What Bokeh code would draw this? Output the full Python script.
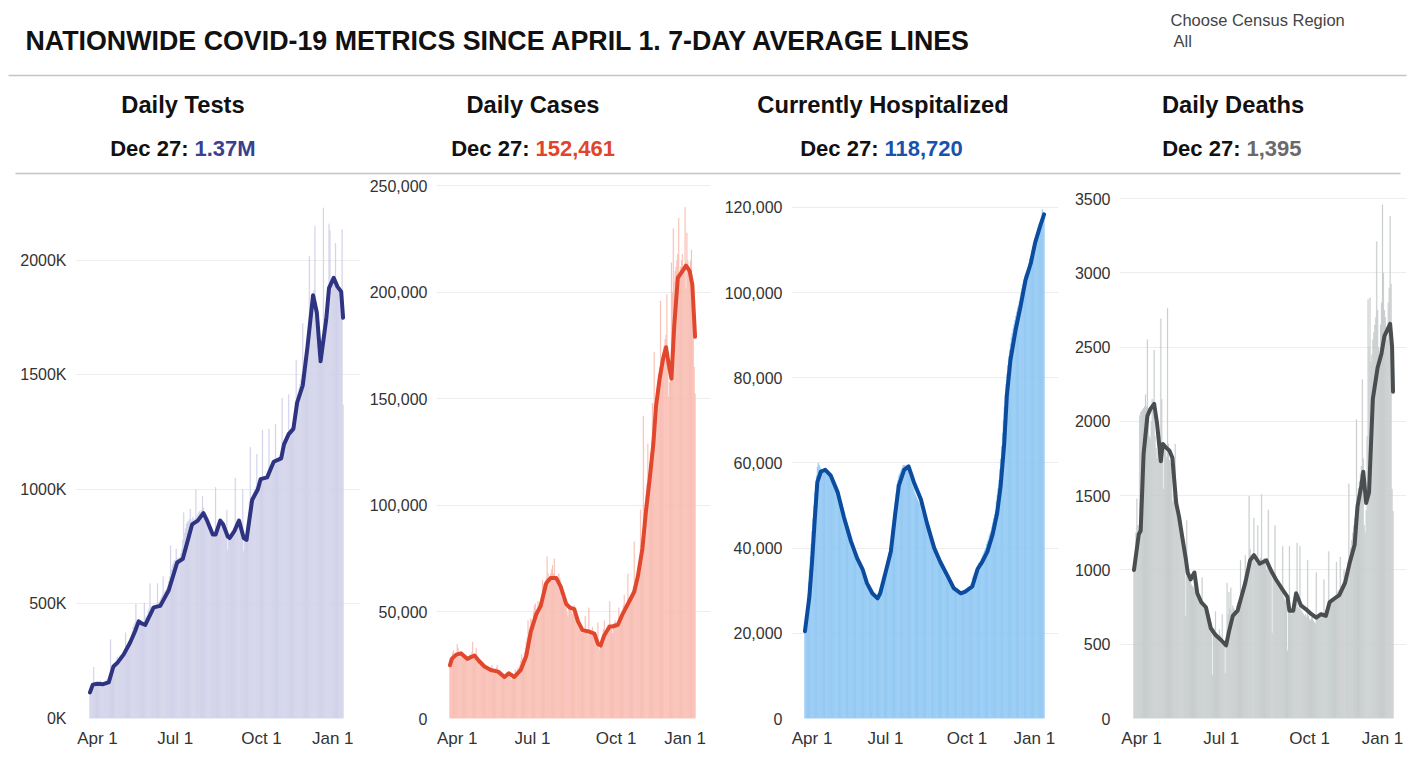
import numpy as np
from bokeh.plotting import figure
from bokeh.layouts import column, row
from bokeh.models import Range1d, FixedTicker
from bokeh.core.properties import value
from bokeh.embed import file_html
from bokeh.resources import INLINE

# ---------------- text ----------------
TITLE = "NATIONWIDE COVID-19 METRICS SINCE APRIL 1. 7-DAY AVERAGE LINES"
REGION_LABEL = "Choose Census Region"
REGION_VALUE = "All"
PANEL_TITLES = ["Daily Tests", "Daily Cases", "Currently Hospitalized", "Daily Deaths"]
LATEST_DATE = "Dec 27:"
LATEST_VALUES = ["1.37M", "152,461", "118,720", "1,395"]

# x axis: day index since Apr 1 (edge labels pulled inside, as in the original)
X_TICK_DAYS = [8, 91, 183, 259]
X_TICK_LABELS = ["Apr 1", "Jul 1", "Oct 1", "Jan 1"]

# ---------------- Daily Tests (thousands) ----------------
TESTS_DAILY_K = [
    105, 125, 140, 150, 225, 160, 145,
    150, 145, 155, 160, 165, 150, 140,
    150, 155, 160, 165, 170, 150, 145,
    160, 345, 210, 220, 230, 240, 235,
    245, 270, 250, 260, 275, 265, 270,
    280, 290, 300, 375, 320, 320, 330,
    340, 350, 360, 380, 400, 410, 420,
    500, 430, 420, 415, 420, 410, 405,
    410, 415, 505, 440, 445, 450, 470,
    480, 590, 490, 485, 480, 490, 490,
    495, 500, 590, 505, 510, 520, 530,
    540, 620, 550, 555, 560, 570, 580,
    600, 620, 755, 650, 670, 680, 690,
    690, 740, 700, 695, 700, 705, 720,
    740, 780, 900, 810, 830, 850, 860,
    860, 870, 915, 860, 870, 880, 860,
    870, 1000, 880, 890, 900, 905, 900,
    910, 970, 920, 880, 860, 870, 860,
    840, 830, 820, 810, 800, 800, 805,
    810, 1010, 830, 850, 860, 865, 870,
    860, 855, 840, 830, 810, 800, 910,
    735, 790, 800, 790, 800, 810, 815,
    820, 1050, 850, 860, 865, 870, 860,
    850, 830, 1000, 730, 780, 790, 800,
    850, 900, 950, 1185, 960, 970, 980,
    990, 1000, 1010, 1155, 1020, 1030, 1040,
    1045, 1050, 1260, 1055, 1050, 1055, 1060,
    1060, 1070, 1265, 1080, 1090, 1100, 1110,
    1120, 1125, 1285, 1130, 1135, 1135, 1140,
    1150, 1170, 1400, 1190, 1200, 1220, 1230,
    1240, 1250, 1415, 1260, 1265, 1270, 1280,
    1300, 1340, 1380, 1565, 1400, 1420, 1440,
    1460, 1480, 1500, 1725, 1530, 1560, 1590,
    1620, 1650, 1700, 2020, 1760, 1800, 1830,
    1850, 1870, 2150, 1820, 1780, 1650, 1560,
    1550, 1560, 1600, 1650, 2230, 1700, 1740,
    1760, 1820, 1880, 2160, 2130, 1900, 1920,
    1930, 1925, 1910, 2075, 1900, 1890, 1880,
    1870, 1860, 1800, 2135, 1370,
]
TESTS_AVG_DAYS = [0, 3, 8, 14, 20, 25, 29, 36, 43, 48, 52, 55, 59, 68, 75, 84, 93, 99, 109, 115,
                  121, 125, 131, 134, 139, 142, 147, 149, 154, 159, 164, 167, 173, 179, 182, 189,
                  196, 204, 207, 212, 217, 221, 227, 232, 238, 242, 246, 248, 252, 255, 260, 264,
                  268, 270]
TESTS_AVG_K = [114, 148, 152, 150, 158, 227, 242, 280, 333, 380, 424, 415, 409, 485, 492, 560, 681,
               697, 848, 864, 897, 864, 803, 803, 864, 848, 795, 788, 818, 864, 788, 780, 954, 1000,
               1045, 1053, 1121, 1136, 1197, 1242, 1265, 1379, 1455, 1621, 1848, 1773, 1560, 1621,
               1742, 1879, 1924, 1886, 1864, 1750]
TESTS_Y_TICKS = [0, 500, 1000, 1500, 2000]
TESTS_Y_LABELS = ["0K", "500K", "1000K", "1500K", "2000K"]

# ---------------- Daily Cases (thousands) ----------------
CASES_DAILY_K = [
    26, 27, 29, 31, 32, 30, 28,
    29, 35, 33, 31, 30, 29, 30,
    31, 30, 29, 28, 29, 27, 26,
    28, 30, 29, 31, 36, 30, 28,
    29, 33, 28, 27, 26, 25, 26,
    27, 26, 25, 24, 25, 24, 23,
    24, 23, 22, 23, 25, 22, 21,
    22, 23, 24, 25, 22, 21, 20,
    21, 22, 21, 20, 19, 20, 21,
    22, 21, 22, 20, 19, 18, 19,
    20, 19, 23, 21, 22, 24, 23,
    25, 27, 30, 28, 27, 31, 33,
    36, 38, 46, 40, 43, 47, 46,
    45, 50, 53, 54, 51, 50, 55,
    50, 54, 55, 57, 65, 63, 60,
    62, 66, 76, 68, 64, 66, 68,
    70, 72, 68, 75, 66, 65, 63,
    64, 68, 66, 60, 57, 56, 55,
    54, 56, 55, 50, 48, 52, 53,
    52, 50, 49, 51, 53, 49, 46,
    45, 44, 47, 43, 42, 40, 41,
    40, 42, 48, 41, 40, 39, 52,
    41, 40, 39, 43, 38, 37, 40,
    36, 35, 45, 33, 32, 34, 36,
    38, 42, 46, 40, 41, 43, 44,
    44, 55, 43, 42, 40, 44, 45,
    46, 43, 45, 44, 52, 45, 47,
    48, 50, 53, 58, 51, 50, 54,
    68, 55, 57, 58, 56, 60, 62,
    83, 62, 64, 66, 70, 72, 75,
    98, 80, 85, 142, 95, 100, 105,
    110, 129, 115, 120, 125, 130, 148,
    135, 172, 145, 150, 155, 158, 162,
    165, 196, 168, 170, 172, 175, 178,
    180, 199, 165, 151, 158, 160, 214,
    200, 230, 205, 210, 212, 215, 218,
    235, 210, 212, 215, 218, 212, 210,
    240, 202, 228, 215, 210, 212, 215,
    220, 205, 195, 165, 152.461,
]
CASES_AVG_DAYS = [0, 2, 7, 12, 19, 27, 32, 38, 45, 53, 60, 65, 71, 78, 84, 89, 95, 100, 106, 111,
                  117, 122, 128, 132, 137, 141, 146, 154, 159, 163, 166, 170, 176, 179, 185, 190,
                  198, 203, 207, 212, 216, 220, 224, 227, 231, 235, 238, 241, 244, 247, 251, 255,
                  260, 264, 267, 269, 270]
CASES_AVG_K = [25, 28, 30, 30.6, 28, 29.6, 27, 24.4, 22.8, 22, 19.5, 21.2, 19.5, 22.8, 29.3, 40.7,
               48.9, 52.9, 63.5, 66, 66, 61.9, 53.8, 52.1, 51.3, 45.6, 41.5, 40.7, 39.9, 35, 34.2,
               39.1, 43.2, 43.2, 44, 48.9, 55.4, 59.5, 66.8, 79.8, 97.7, 112.4, 128.7, 146.6, 159.6,
               169.4, 174.3, 166.2, 159.6, 184, 206.9, 209.3, 212.6, 210.1, 203.6, 187.3, 179.2]
CASES_Y_TICKS = [0, 50, 100, 150, 200, 250]
CASES_Y_LABELS = ["0", "50,000", "100,000", "150,000", "200,000", "250,000"]

# ---------------- Currently Hospitalized (thousands) ----------------
HOSP_DAILY_K = [
    20.5, 23, 26, 29, 32, 35, 38,
    41, 44, 47, 50, 53, 55, 57,
    59, 60, 59.5, 59, 58.5, 58.5, 58.5,
    58.5, 58.5, 58, 58, 57.5, 57.5, 57,
    57, 56.5, 56, 55.5, 55, 54.5, 54,
    53.5, 53, 52, 51.5, 50.5, 50, 49,
    48.5, 47.5, 47, 46, 45, 44.5, 43.5,
    43, 42, 41.5, 41, 40, 39.5, 39,
    38.5, 38, 37.5, 37, 36.5, 36, 35.5,
    35.5, 35, 34.5, 34, 33, 32.5, 32,
    31.5, 31, 30.5, 30, 30, 29.5, 29,
    29, 28.5, 28.5, 28.5, 28, 28, 28.5,
    29, 29.5, 30, 31, 32, 33, 34,
    35, 36, 37, 38, 39, 40, 41,
    43, 45, 47, 49, 51, 53, 55,
    56, 57, 57.5, 58, 58.5, 59, 59.5,
    59.5, 59.5, 59, 59, 58.5, 58, 57,
    56.5, 56, 55, 54.5, 54, 53, 52.5,
    52, 51.5, 51, 50.5, 50, 49, 48.5,
    48, 47.5, 47, 46.5, 46, 45.5, 45,
    44, 43.5, 43, 42.5, 42, 41, 40.5,
    40, 39.5, 39, 38.5, 38, 37.5, 37,
    36.5, 36, 35.5, 35, 34.5, 34, 33.5,
    33.5, 33, 32.5, 32, 31.5, 31, 31,
    30.5, 30.5, 30, 30, 29.8, 29.6, 29.5,
    29.5, 29.4, 29.4, 29.5, 29.6, 29.8, 30,
    30.2, 30.4, 30.6, 30.8, 31, 31.5, 32,
    33, 33.5, 34, 34.5, 35, 35.5, 36,
    36.5, 36.5, 37, 37.5, 38, 38.5, 39,
    39.5, 40, 41, 41.5, 42, 43, 43.5,
    44, 45, 46, 47, 48, 49, 51,
    52.5, 54, 56, 58.5, 61, 64, 67,
    70, 73, 76, 78.5, 81, 83, 85,
    86.5, 88, 89.5, 90.5, 91.5, 92.5, 93.5,
    94.5, 95.5, 96.5, 97, 98, 99, 100,
    101, 102, 103, 104, 104.5, 105, 105.5,
    106, 107, 108, 108.5, 109, 110, 111,
    111.5, 112, 113, 113.5, 114, 114.5, 115.5,
    116, 117, 119.5, 118.5, 118.72,
]
HOSP_AVG_DAYS = [0, 5, 8, 11, 14, 18, 23, 29, 37, 44, 52, 59, 65, 70, 76, 82, 85, 91, 97, 102, 106,
                 112, 117, 123, 131, 138, 146, 153, 161, 168, 176, 181, 189, 195, 200, 206, 212, 217,
                 221, 225, 228, 232, 238, 243, 249, 255, 260, 266, 270]
HOSP_AVG_K = [20.5, 28.6, 36.7, 46.5, 55.5, 58, 58.4, 57.1, 53.1, 47.3, 41.6, 37.6, 35.1, 31.8, 29.4,
              28.2, 29.4, 34.3, 39.2, 48.2, 54.7, 58.4, 59.2, 55.5, 51.4, 45.7, 40, 36.7, 33.5, 30.6,
              29.4, 29.8, 31, 35.1, 36.7, 39.2, 43.3, 48.2, 54.7, 64.5, 75.9, 84.1, 91.4, 96.3,
              102.9, 106.9, 111.8, 115.9, 118.4]
HOSP_Y_TICKS = [0, 20, 40, 60, 80, 100, 120]
HOSP_Y_LABELS = ["0", "20,000", "40,000", "60,000", "80,000", "100,000", "120,000"]

# ---------------- Daily Deaths ----------------
DEATHS_DAILY = [
    1000, 1100, 1250, 1480, 1300, 1300, 2040,
    2060, 2070, 2080, 2090, 2100, 2180, 2100,
    2552, 2050, 1900, 1880, 2000, 2150, 2080,
    2481, 1900, 1820, 1750, 1800, 1850, 1900,
    2692, 2150, 1780, 1545, 1850, 1800, 1760,
    2762, 1850, 1740, 1720, 1700, 1460, 1750,
    1600, 1849, 1450, 1380, 1340, 1300, 1250,
    1250, 1200, 1150, 1100, 1050, 690, 1334,
    1000, 980, 950, 920, 900, 890, 880,
    960, 870, 850, 830, 800, 780, 790,
    800, 950, 780, 750, 760, 740, 720,
    700, 680, 660, 640, 620, 293, 610,
    600, 720, 580, 570, 560, 600, 560,
    540, 700, 520, 510, 304, 500, 913,
    700, 850, 740, 880, 720, 760, 740,
    730, 720, 760, 780, 760, 800, 1065,
    850, 880, 900, 930, 1100, 960, 1000,
    1050, 1498, 1140, 1100, 1090, 1080, 1350,
    1060, 1050, 1040, 1300, 1060, 1050, 1080,
    1510, 1060, 1070, 1080, 1050, 1000, 1030,
    1405, 1000, 990, 980, 574, 960, 950,
    1299, 920, 900, 890, 880, 870, 860,
    850, 1159, 820, 800, 790, 780, 456,
    760, 1159, 720, 700, 730, 760, 740,
    760, 780, 1182, 750, 740, 1159, 730,
    720, 710, 700, 690, 700, 680, 1065,
    690, 670, 660, 680, 690, 660, 650,
    640, 983, 680, 670, 700, 700, 690,
    680, 700, 936, 690, 720, 750, 780,
    1124, 790, 800, 810, 780, 820, 800,
    830, 1053, 850, 860, 870, 1088, 890,
    900, 920, 1000, 960, 980, 1000, 1050,
    1580, 1100, 1150, 1200, 1250, 1300, 1350,
    1400, 2013, 1500, 1550, 1600, 1650, 1700,
    2283, 1750, 1300, 1250, 1400, 1900, 2821,
    2500, 2833, 2400, 2450, 2550, 2600, 2650,
    2700, 3212, 2750, 2500, 2450, 2650, 2800,
    3460, 3000, 2750, 2700, 2600, 2550, 2800,
    2900, 3383, 2926, 1545, 1395,
]
DEATHS_AVG_DAYS = [0, 5, 7, 10, 14, 17, 21, 24, 28, 30, 33, 37, 40, 44, 47, 51, 54, 56, 59, 63, 66,
                   70, 75, 80, 85, 91, 96, 99, 103, 108, 111, 116, 121, 125, 131, 138, 143, 148, 155,
                   160, 162, 166, 169, 174, 179, 185, 190, 195, 200, 204, 209, 214, 220, 225, 230,
                   233, 237, 239, 242, 245, 249, 254, 258, 261, 267, 269, 270]
DEATHS_AVG = [1000, 1241, 1264, 1779, 2037, 2083, 2119, 1990, 1732, 1849, 1826, 1803, 1756, 1451,
              1358, 1194, 1077, 983, 936, 983, 843, 784, 749, 609, 562, 527, 492, 585, 691, 726, 796,
              913, 1065, 1100, 1042, 1065, 995, 936, 866, 819, 726, 726, 843, 761, 737, 702, 679,
              702, 691, 784, 808, 831, 913, 1053, 1170, 1428, 1568, 1662, 1451, 1522, 2154, 2364,
              2458, 2575, 2657, 2505, 2200]
DEATHS_Y_TICKS = [0, 500, 1000, 1500, 2000, 2500, 3000, 3500]
DEATHS_Y_LABELS = ["0", "500", "1000", "1500", "2000", "2500", "3000", "3500"]

# ---------------- styles ----------------
FONT = value("Liberation Sans")
BAR_COLORS = ["#d1d2e9", "#f9beb3", "#8fc8f3", "#c9cdcd"]
LINE_COLORS = ["#2e3482", "#e0472c", "#0c4c9e", "#4a4e50"]
VALUE_COLORS = ["#3b3f8e", "#e0452b", "#1753ad", "#6a6a6a"]

# ---------------- header ----------------
HW, HH = 1408, 178
head = figure(width=HW, height=HH, output_backend="svg", toolbar_location=None,
              x_range=Range1d(0, HW), y_range=Range1d(HH, 0),
              x_axis_location=None, y_axis_location=None, min_border=0)
head.grid.visible = False
head.outline_line_color = None

head.text(x=[25], y=[40], text=[TITLE], text_font=FONT, text_font_size=value("26.8px"),
          text_font_style="bold", text_color="#111111", text_baseline="alphabetic")
head.text(x=[1170, 1173], y=[19, 40], text=[REGION_LABEL, REGION_VALUE], text_font=FONT,
          text_font_size=value("16.5px"), text_color="#444444", text_baseline="alphabetic")
head.segment(x0=[8, 15], y0=[75, 173], x1=[1406, 1400], y1=[75, 173],
             line_color="#c4c4c4", line_width=1.5)

centers = [182.5, 532.5, 882.5, 1232.5]
splits = [188, 529, 878, 1240]
head.text(x=centers, y=[104] * 4, text=PANEL_TITLES, text_font=FONT,
          text_font_size=value("23.7px"), text_font_style="bold", text_color="#111111",
          text_align="center", text_baseline="alphabetic")
head.text(x=splits, y=[148] * 4, text=[LATEST_DATE] * 4, text_font=FONT,
          text_font_size=value("22px"), text_font_style="bold", text_color="#111111",
          text_align="right", text_baseline="alphabetic")
for i in range(4):
    head.text(x=[splits[i] + 6], y=[148], text=[LATEST_VALUES[i]], text_font=FONT,
              text_font_size=value("22px"), text_font_style="bold", text_color=VALUE_COLORS[i],
              text_align="left", text_baseline="alphabetic")


# ---------------- panels ----------------
def panel(i, left, frame_w, right, xr, ytop, daily, avg_x, avg_y, yticks, ylabels):
    p = figure(frame_width=frame_w, frame_height=540, output_backend="svg",
               toolbar_location=None,
               x_range=Range1d(*xr), y_range=Range1d(0, ytop),
               min_border_left=left, min_border_right=right,
               min_border_top=0, min_border_bottom=36)
    p.outline_line_color = None
    p.xgrid.visible = False
    p.ygrid.grid_line_color = "#ededed"
    p.ygrid.grid_line_width = 1
    p.ygrid.ticker = FixedTicker(ticks=yticks)

    x = np.arange(len(daily))
    p.vbar(x=x, top=daily, width=1.0, bottom=0, fill_color=BAR_COLORS[i],
           line_color=BAR_COLORS[i], line_width=0.2)
    p.line(avg_x, avg_y, line_color=LINE_COLORS[i], line_width=4,
           line_join="round", line_cap="round")

    for ax in (p.xaxis[0], p.yaxis[0]):
        ax.axis_line_color = None
        ax.major_tick_line_color = None
        ax.minor_tick_line_color = None
        ax.major_tick_out = 0
        ax.major_tick_in = 0
        ax.minor_tick_out = 0
        ax.major_label_text_font = "Liberation Sans"
        ax.major_label_text_color = "#333333"
    p.xaxis.major_label_text_font_size = "17px"
    p.yaxis.major_label_text_font_size = "16px"
    p.xaxis.ticker = FixedTicker(ticks=X_TICK_DAYS)
    p.xaxis.major_label_overrides = dict(zip(X_TICK_DAYS, X_TICK_LABELS))
    p.xaxis.major_label_standoff = 10
    p.yaxis.ticker = FixedTicker(ticks=yticks)
    p.yaxis.major_label_overrides = dict(zip(yticks, ylabels))
    p.yaxis.major_label_standoff = 9
    return p


p1 = panel(0, 75, 285, 6, (-15.44, 288.6), 2358, TESTS_DAILY_K, TESTS_AVG_DAYS, TESTS_AVG_K,
           TESTS_Y_TICKS, TESTS_Y_LABELS)
p2 = panel(1, 70, 274, 6, (-14.82, 287.0), 253.5, CASES_DAILY_K, CASES_AVG_DAYS, CASES_AVG_K,
           CASES_Y_TICKS, CASES_Y_LABELS)
p3 = panel(2, 75, 267, 8, (-15.18, 286.3), 126.8, HOSP_DAILY_K, HOSP_AVG_DAYS, HOSP_AVG_K,
           HOSP_Y_TICKS, HOSP_Y_LABELS)
p4 = panel(3, 53, 287, 2, (-15.09, 284.05), 3636, DEATHS_DAILY, DEATHS_AVG_DAYS, DEATHS_AVG,
           DEATHS_Y_TICKS, DEATHS_Y_LABELS)

layout = column(head, row(p1, p2, p3, p4))
open("out.html", "w").write(file_html(layout, INLINE))
